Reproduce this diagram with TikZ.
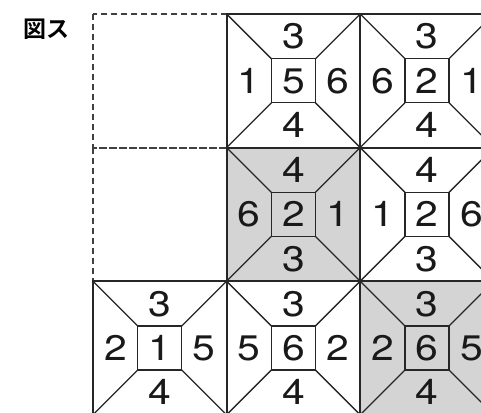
\documentclass[tikz,border=0pt]{standalone}
\usepackage{fontspec}
\setmainfont{TeX Gyre Heros}
\newfontfamily\numfont{TeX Gyre Heros}[FakeStretch=1.15]
\newfontfamily\cjk{Noto Sans CJK JP}[BoldFont={* Bold}]
\definecolor{tilegray}{HTML}{D4D4D4}
\tikzset{
  edge/.style={line width=2pt, black!85},
  inner/.style={line width=1.3pt, black!85},
  dashgrid/.style={line width=1.8pt, black!75, dash pattern=on 6pt off 4pt},
  num/.style={inner sep=0pt, text height=25pt, text depth=0pt, font=\numfont\fontsize{35.5}{35.5}\selectfont, text=black!90},
}
\def\tS{133.6}
\def\tA{44.8}
\def\tB{88.8}
\def\tH{66.8}
\def\tQ{22.4}
\def\tR{111.2}
\newcommand\tilebox[9]{%
\begin{scope}[shift={(#2,#3)}]
  \fill[#4] (0,0) rectangle (\tS,\tS);
  \draw[inner] (0,0) -- (\tA,\tA) (\tS,0) -- (\tB,\tA) (0,\tS) -- (\tA,\tB) (\tS,\tS) -- (\tB,\tB);
  \draw[inner] (\tA,\tA) rectangle (\tB,\tB);
  \draw[edge] (0,0) rectangle (\tS,\tS);
  \node[num] (#1t) at (\tH,\tQ) {#5};
  \node[num] (#1l) at (\tQ,\tH) {#6};
  \node[num] (#1c) at (\tH,\tH) {#7};
  \node[num] (#1r) at (\tR,\tH) {#8};
  \node[num] (#1b) at (\tH,\tR) {#9};
\end{scope}}
\begin{document}
\begin{tikzpicture}[x=1pt,y=-1pt]
\useasboundingbox (0,0) rectangle (481,412);
\clip (0,0) rectangle (481,412);
\fill[white] (0,0) rectangle (481,412);
\node[font=\cjk\bfseries\fontsize{23}{23}\selectfont, inner sep=0pt] (title) at (46.5,29) {図ス};
% dashed empty cells
\draw[dashgrid] (93,14) rectangle (226.6,147.6);
\draw[dashgrid] (93,147.6) rectangle (226.6,281.2);
\draw[dashgrid] (226.6,14) -- (494,14);
\draw[dashgrid] (93,281.2) -- (226.6,281.2);
% tiles
\tilebox{ta}{226.6}{14}{white}{3}{1}{5}{6}{4}
\tilebox{tb}{360.2}{14}{white}{3}{6}{2}{1}{4}
\tilebox{tc}{226.6}{147.6}{tilegray}{4}{6}{2}{1}{3}
\tilebox{td}{360.2}{147.6}{white}{4}{1}{2}{6}{3}
\tilebox{te}{93}{281.2}{white}{3}{2}{1}{5}{4}
\tilebox{tf}{226.6}{281.2}{white}{3}{5}{6}{2}{4}
\tilebox{tg}{360.2}{281.2}{tilegray}{3}{2}{6}{5}{4}
\end{tikzpicture}
\end{document}
